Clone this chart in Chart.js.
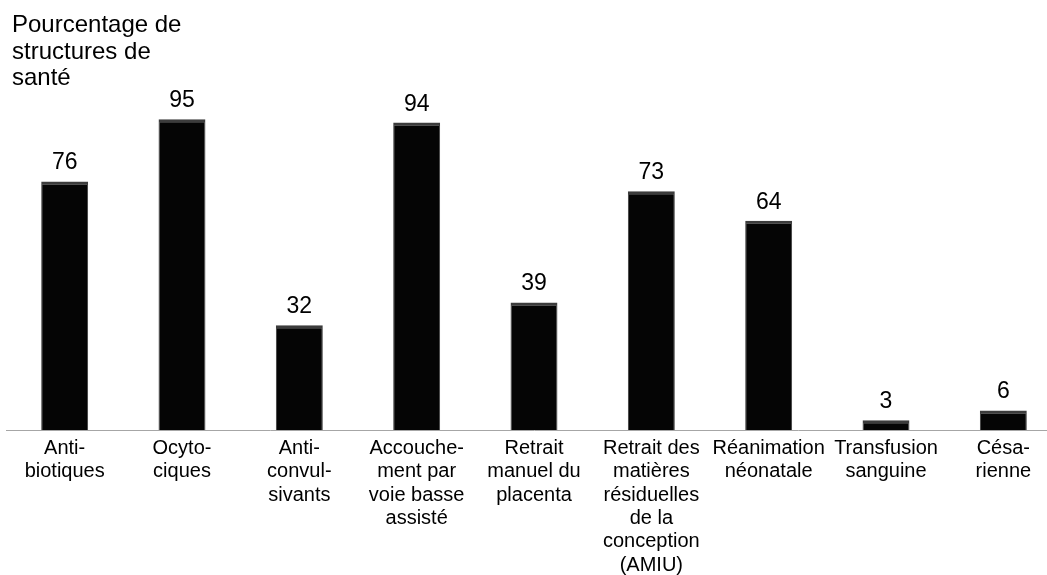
<!DOCTYPE html>
<html>
<head>
<meta charset="utf-8">
<script src="https://cdn.jsdelivr.net/npm/chart.js@4/dist/chart.umd.min.js"></script>
<style>
    html, body { margin: 0; padding: 0; background: #fff; overflow: hidden; }
    #wrap { position: relative; width: 1065px; height: 575px; }
</style>
</head>
<body>
<div id="wrap"><canvas id="chart"></canvas></div>
<script>
// categories, one array per label (already split into lines)
const categories = [
    ['Anti-', 'biotiques'],
    ['Ocyto-', 'ciques'],
    ['Anti-', 'convul-', 'sivants'],
    ['Accouche-', 'ment par', 'voie basse', 'assisté'],
    ['Retrait', 'manuel du', 'placenta'],
    ['Retrait des', 'matières', 'résiduelles', 'de la', 'conception', '(AMIU)'],
    ['Réanimation', 'néonatale'],
    ['Transfusion', 'sanguine'],
    ['Césa-', 'rienne']
];
const values = [76, 95, 32, 94, 39, 73, 64, 3, 6];
const titleLines = ['Pourcentage de', 'structures de', 'santé'];

const FONT = "'Liberation Sans', Arial, sans-serif";

// value labels above each bar + title in top left corner
const labelsPlugin = {
    id: 'labelsPlugin',
    afterDatasetsDraw(chart) {
        const ctx = chart.ctx;
        const meta = chart.getDatasetMeta(0);
        ctx.save();
        ctx.fillStyle = '#000';
        ctx.font = '23px ' + FONT;
        ctx.textAlign = 'center';
        ctx.textBaseline = 'alphabetic';
        meta.data.forEach(function(bar, i) {
            ctx.fillText(String(values[i]), bar.x, bar.y - 12);
        });

        ctx.textAlign = 'left';
        ctx.font = '24px ' + FONT;
        titleLines.forEach(function(line, i) {
            ctx.fillText(line, 12, 32 + i * 26.5);
        });
        ctx.restore();
    }
};

const ctx = document.getElementById('chart').getContext('2d');
new Chart(ctx, {
    type: 'bar',
    data: {
        labels: categories,
        datasets: [{
            data: values,
            backgroundColor: '#050505',
            borderColor: '#3c3c3c',
            borderWidth: { top: 3, left: 1, right: 1, bottom: 0 },
            borderSkipped: false,
            barPercentage: 0.4,
            categoryPercentage: 1.0
        }]
    },
    options: {
        responsive: true,
        maintainAspectRatio: false,
        animation: false,
        layout: { padding: { left: 6, right: 3, top: 103, bottom: 0 } },
        plugins: {
            legend: { display: false },
            title: { display: false },
            tooltip: { enabled: false }
        },
        scales: {
            x: {
                grid: { display: false, drawTicks: false },
                border: { display: true, color: '#a6a6a6', width: 1 },
                afterFit: function(scale) { scale.height = 145; },
                ticks: {
                    autoSkip: false,
                    maxRotation: 0,
                    padding: 7,
                    color: '#000',
                    font: { family: FONT, size: 20, lineHeight: 1.165 }
                }
            },
            y: {
                display: false,
                min: 0,
                max: 100
            }
        }
    },
    plugins: [labelsPlugin]
});
</script>
</body>
</html>
